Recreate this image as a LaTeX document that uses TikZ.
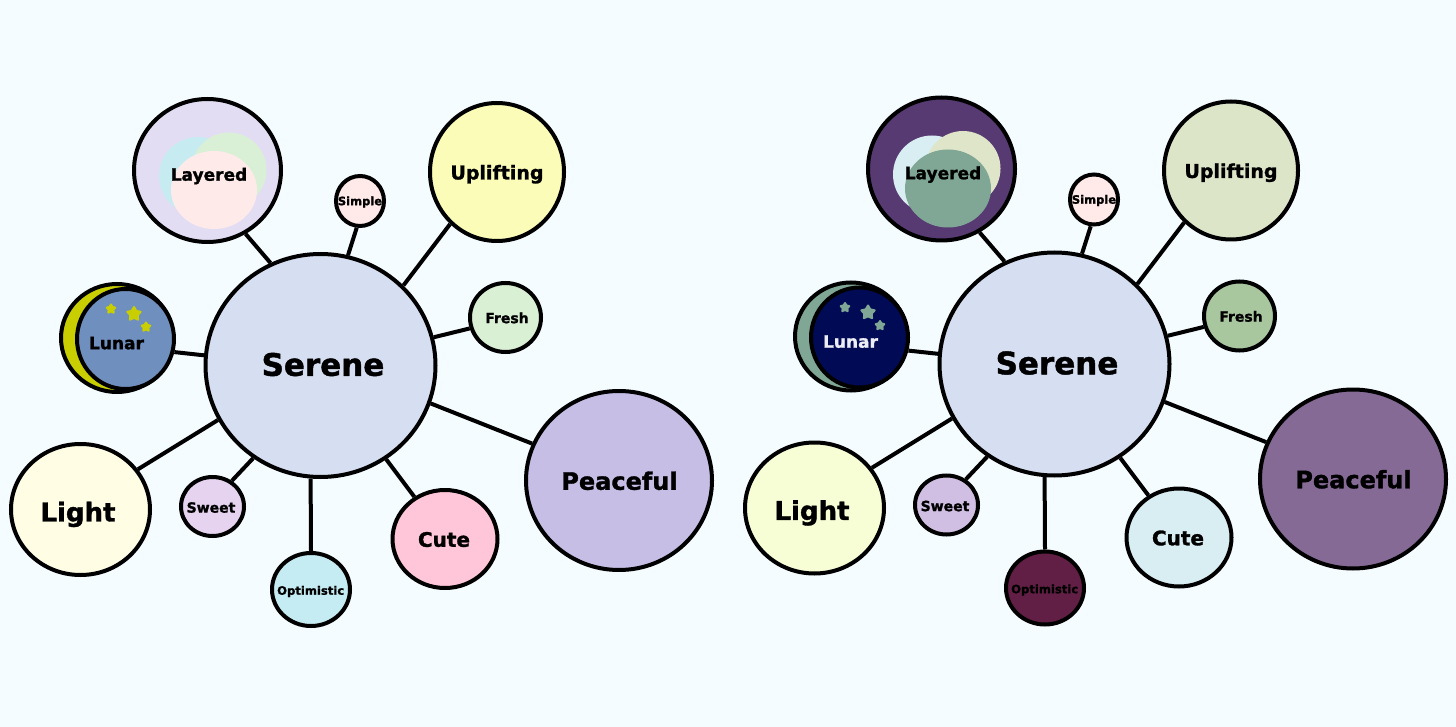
\documentclass[tikz,border=0pt]{standalone}
\usepackage{fontspec}
\setmainfont{DejaVu Sans}
\newfontfamily\heavyfont{DejaVu Sans Bold}[FakeBold=1.4]
\usetikzlibrary{shapes.geometric}
\definecolor{paper}{HTML}{F5FCFF}
\definecolor{serenefill}{HTML}{D6DEF1}
% left map
\definecolor{llayered}{HTML}{E3DDF3}\definecolor{llayerb}{HTML}{C6ECF2}\definecolor{llayerg}{HTML}{D9F0D6}\definecolor{llayerp}{HTML}{FFEAEA}
\definecolor{lsimple}{HTML}{FFE9E9}\definecolor{luplift}{HTML}{FBFCB8}\definecolor{lfresh}{HTML}{D9F0D4}
\definecolor{lpeace}{HTML}{C7BEE5}\definecolor{lcute}{HTML}{FFC5D8}\definecolor{loptim}{HTML}{C5ECF2}
\definecolor{lsweet}{HTML}{E6D3F0}\definecolor{llight}{HTML}{FFFDE3}\definecolor{lmoon}{HTML}{C8CE00}
\definecolor{ldisc}{HTML}{6F90BE}\definecolor{llunartxt}{HTML}{000000}
% right map
\definecolor{rlayered}{HTML}{573A72}\definecolor{rlayerb}{HTML}{D9EEF2}\definecolor{rlayerg}{HTML}{DEE5C8}\definecolor{rlayerp}{HTML}{80A795}
\definecolor{rsimple}{HTML}{FFE9E9}\definecolor{ruplift}{HTML}{DCE5C8}\definecolor{rfresh}{HTML}{A8C79F}
\definecolor{rpeace}{HTML}{856A96}\definecolor{rcute}{HTML}{D9EEF2}\definecolor{roptim}{HTML}{621F45}
\definecolor{rsweet}{HTML}{D0BEE3}\definecolor{rlight}{HTML}{F7FDD5}\definecolor{rmoon}{HTML}{80A795}
\definecolor{rdisc}{HTML}{000A55}\definecolor{rlunartxt}{HTML}{EDEDF5}
\tikzset{bub/.style 2 args={ellipse,draw=black,line width=4pt,inner sep=0pt,minimum width=#1,minimum height=#2},
 lbl/.style={font=\fontsize{#1}{#1}\heavyfont,inner sep=0pt,text height={0.73*#1 pt},text depth=0pt},
 layer/.style 2 args={ellipse,inner sep=0pt,minimum width=#1,minimum height=#2},
 wire/.style={line width=4pt},
 starlet/.style={star,star points=5,star point ratio=1.8,inner sep=0pt,minimum size=#1,line width=2pt,line join=round}}

\begin{document}
\begin{tikzpicture}[x=1pt,y=-1pt]
\fill[paper] (0,0) rectangle (1456,727);
\foreach \side/\dx/\dy in {l/0/0,r/734/-1.5}{
\begin{scope}[shift={(\dx,\dy)},name prefix=\side-]
\node[bub={230}{223},fill=serenefill](serene) at (320.5,365.5){};
\node[lbl=31](serenetxt) at (323,364.5){Serene};
% upper left
\node[bub={147}{143},fill=\side layered](layered) at (207.5,170.5){};
\node[layer={78}{78},fill=\side layerb](layerb) at (198,176){};
\node[layer={75}{75},fill=\side layerg](layerg) at (229,170){};
\node[layer={86}{78},fill=\side layerp](layerp) at (214,190){};
\node[lbl=17](layeredtxt) at (209,174.5){Layered};
\node[bub={48}{50},fill=\side simple](simple) at (360,201){};
\node[lbl=11.5](simpletxt) at (360,201){Simple};
\node[bub={134}{138},fill=\side uplift](uplift) at (497,172){};
\node[lbl=19](uplifttxt) at (497,172.5){Uplifting};
\node[bub={71}{69},fill=\side fresh](fresh) at (505.5,317.5){};
\node[lbl=14](freshtxt) at (507,318){Fresh};
% lunar
\node[bub={112}{108},fill=\side moon](moon) at (117,338){};
\node[bub={97}{100},fill=\side disc](disc) at (125.5,339){};
\foreach \n/\sx/\sy/\sr in {a/111/309/9,b/134/314/14,c/146/327/9}
 \node[starlet=\sr,fill=\side moon,draw=\side moon](star\n) at (\sx,\sy){};
\node[lbl=17,text=\side lunartxt](lunartxt) at (116.5,343){Lunar};
% lower row
\node[bub={186}{179},fill=\side peace](peace) at (619,480.5){};
\node[lbl=24](peacetxt) at (619.5,481){Peaceful};
\node[bub={105}{98},fill=\side cute](cute) at (445,539){};
\node[lbl=20](cutetxt) at (444,539.5){Cute};
\node[bub={78}{73},fill=\side optim](optim) at (311,589.5){};
\node[lbl=11.6](optimtxt) at (310.7,590.5){Optimistic};
\node[bub={63}{59},fill=\side sweet](sweet) at (212.5,506.5){};
\node[lbl=14](sweettxt) at (211,507.5){Sweet};
\node[bub={139}{131},fill=\side light](light) at (80.5,509.5){};
\node[lbl=26](lighttxt) at (78,512){Light};
% spokes
\draw[wire](serene.116.7)--(layered.-59);
\draw[wire](serene.76)--(simple.-97);
\draw[wire](serene.44)--(uplift.-132);
\draw[wire](serene.14.5)--(fresh.-163);
\draw[wire](serene.-19.4)--(peace.157);
\draw[wire](serene.-55.7)--(cute.126);
\draw[wire](serene.-95.4)--(optim.90);
\draw[wire](serene.-126.5)--(sweet.53.6);
\draw[wire](serene.-152)--(light.35);
\draw[wire](serene.175.3)--(disc.-15.5);
\end{scope}}
\end{tikzpicture}
\end{document}
